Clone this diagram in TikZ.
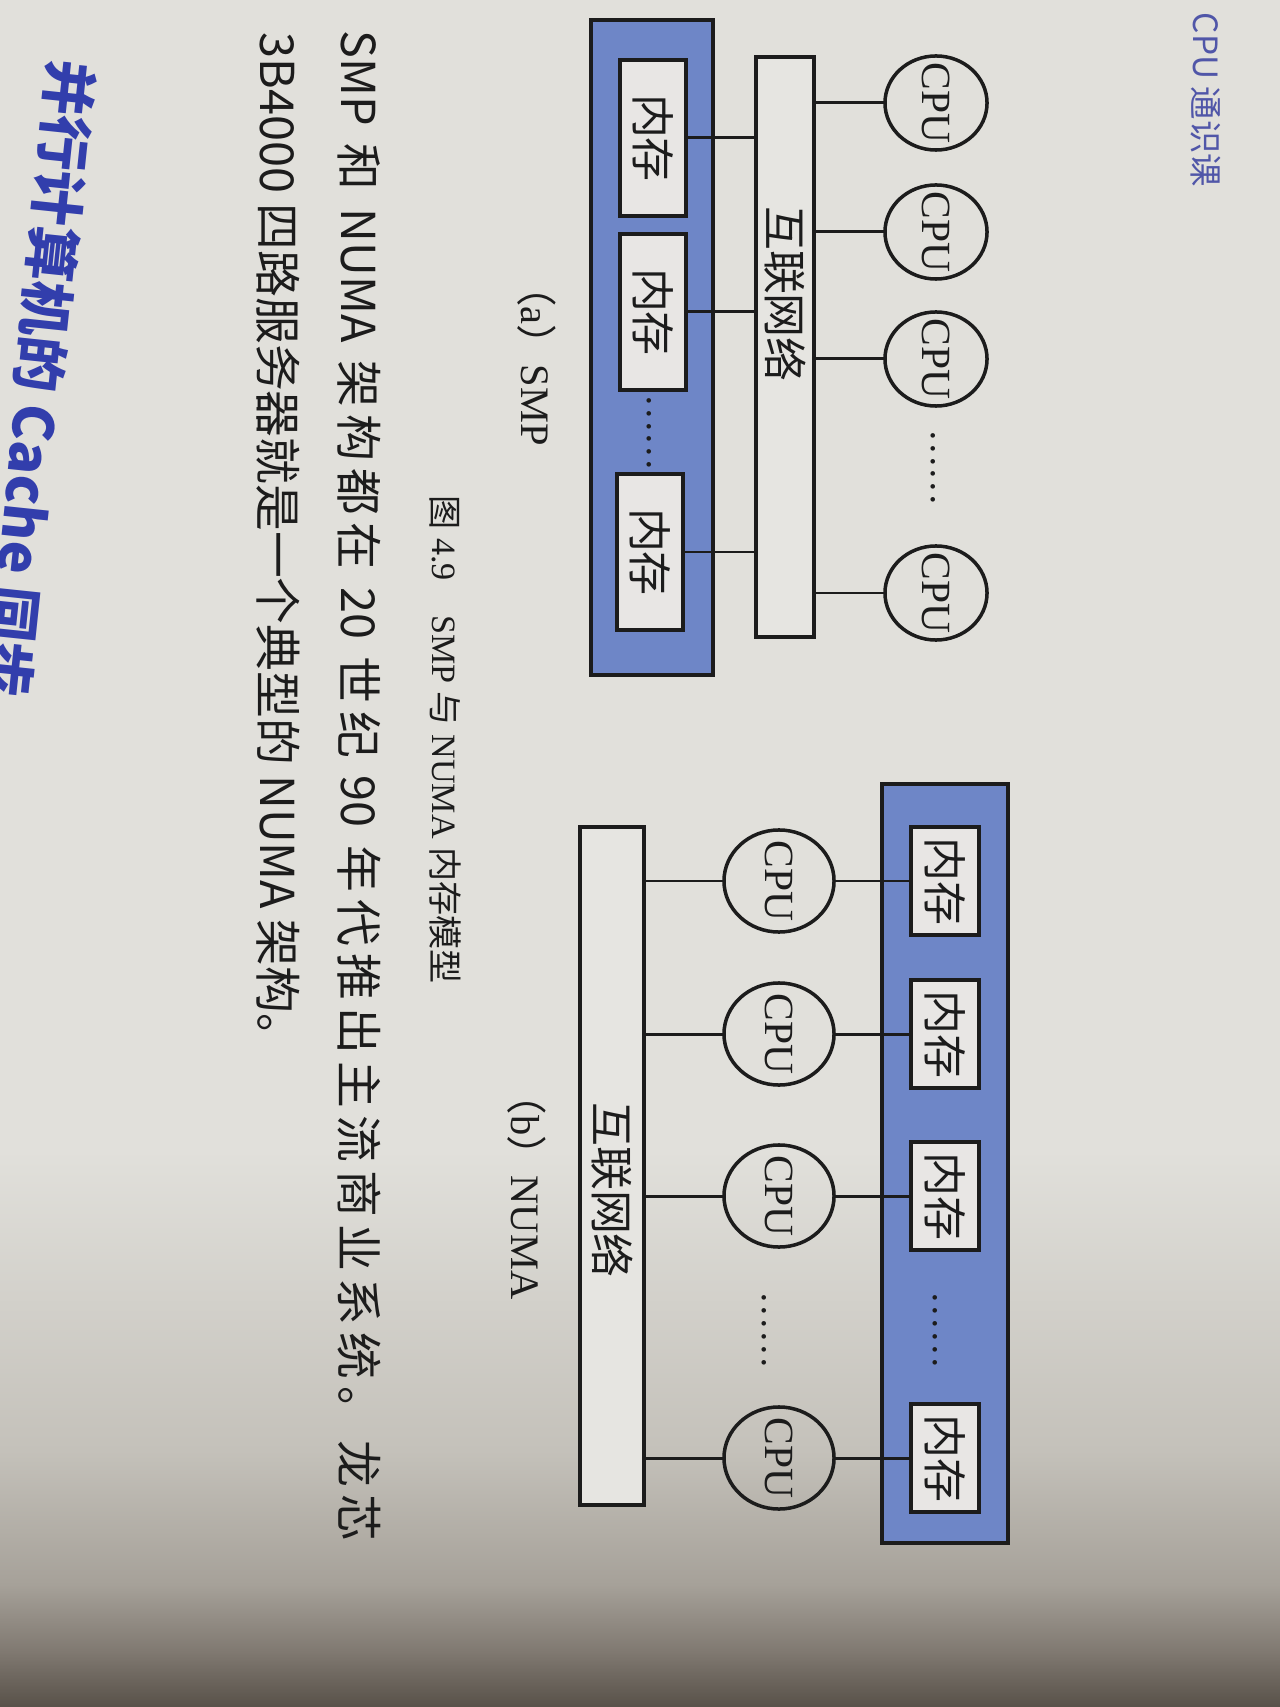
\documentclass[tikz,border=0pt]{standalone}
\usepackage{fontspec}
\setmainfont{Liberation Serif}
\newfontfamily\cjk{Noto Sans CJK SC}
\usetikzlibrary{shapes.geometric}
\definecolor{paper}{RGB}{225,224,219}
\definecolor{shadeB}{RGB}{196,193,186}
\definecolor{shadeC}{RGB}{166,161,153}
\definecolor{shadeD}{RGB}{128,121,113}
\definecolor{shadeE}{RGB}{88,81,73}
\definecolor{blueboxc}{RGB}{110,134,199}
\definecolor{memfill}{RGB}{232,230,228}
\definecolor{icfill}{RGB}{230,229,225}
\definecolor{headblue}{RGB}{50,62,172}
\definecolor{topblue}{RGB}{80,86,168}
\definecolor{ink}{RGB}{28,28,28}
\pgfdeclareverticalshading{pagecurl}{100bp}{color(0bp)=(shadeE); color(25bp)=(shadeE); color(30bp)=(shadeD); color(36bp)=(shadeC); color(48bp)=(shadeB); color(75bp)=(paper); color(100bp)=(paper)}
\begin{document}
\begin{tikzpicture}[x=0.01cm,y=-0.01cm,
  conn/.style={draw=ink,line width=0.85pt},
  bluebox/.style={draw=ink,fill=blueboxc,line width=1.4pt},
  membox/.style={draw=ink,fill=memfill,line width=1.15pt,rotate=-90,inner sep=0pt,
    font=\cjk\fontsize{12.5}{13}\selectfont,text=ink},
  icbox/.style={draw=ink,fill=icfill,line width=1pt,rotate=-90,inner sep=0pt},
  cpushape/.style={draw=ink,ellipse,line width=1pt,rotate=-90,inner sep=0pt,outer sep=0pt},
  smpcpu/.style={cpushape,minimum width=0.94cm,minimum height=1.02cm},
  numacpu/.style={cpushape,minimum width=1.02cm,minimum height=1.10cm},
  cputxt/.style={rotate=-90,inner sep=0pt,text=ink,font=\fontsize{11.8}{12}\selectfont},
  lbl/.style={rotate=-90,inner sep=0pt,text=ink},
  dotsl/.style={rotate=-90,inner sep=0pt,text=ink,font=\fontsize{11}{11}\selectfont}
]
\useasboundingbox (0,0) rectangle (1280,1707);
\clip (0,0) rectangle (1280,1707);
\fill[paper] (0,0) rectangle (1280,1707);
\shade[shading=pagecurl] (0,1150) rectangle (1280,1707);

% header
\node[lbl,anchor=west,text=topblue,font=\cjk\fontsize{9.5}{10}\selectfont] (hdr) at (1206,12) {CPU 通识课};

% ---------- (a) SMP ----------
\path[bluebox] (591,20) rectangle (713,675);
\node[icbox,minimum width=5.8cm,minimum height=0.58cm] (sic) at (785,347) {};
\node[lbl,font=\cjk\fontsize{12.5}{13}\selectfont] (sictxt) at (785,294) {互联网络};
\node[membox,minimum width=1.55cm,minimum height=0.66cm] (sm1) at (653,138) {内存};
\node[membox,minimum width=1.55cm,minimum height=0.66cm] (sm2) at (653,312) {内存};
\node[membox,minimum width=1.55cm,minimum height=0.66cm] (sm3) at (650,552) {内存};
\node[dotsl,anchor=base] (smd) at (647,433) {……};
\foreach \i/\yy in {1/103,2/232,3/359,4/593}{
  \node[smpcpu] (sc\i) at (936,\yy) {};
  \node[cputxt] (sc\i t) at (sc\i.center) {CPU};
}
\node[dotsl,anchor=base] (scd) at (931,468) {……};
\foreach \i in {1,2,3,4}{\draw[conn] (sc\i.south) -- (sc\i.south -| sic.north);}
\foreach \i in {1,2,3}{\draw[conn] (sm\i.north) -- (sm\i.north -| sic.south);}
\node[lbl,font=\fontsize{11.5}{12}\selectfont] (la) at (537,356) {{\cjk （}a{\cjk ）}SMP};

% ---------- (b) NUMA ----------
\path[bluebox] (882,784) rectangle (1008,1543);
\node[icbox,minimum width=6.78cm,minimum height=0.64cm] (nic) at (612,1166) {};
\node[lbl,font=\cjk\fontsize{12.5}{13}\selectfont] (nictxt) at (612,1190) {互联网络};
\foreach \i/\yy in {1/881,2/1034,3/1196,4/1458}{
  \node[membox,minimum width=1.08cm,minimum height=0.68cm] (nm\i) at (945,\yy) {内存};
  \node[numacpu] (nc\i) at (779,\yy) {};
  \node[cputxt] (nc\i t) at (nc\i.center) {CPU};
}
\node[dotsl,anchor=base] (nmd) at (933,1330) {……};
\node[dotsl,anchor=base] (ncd) at (762,1330) {……};
\foreach \i in {1,2,3,4}{
  \draw[conn] (nc\i.south) -- (nc\i.south -| nic.north);
  \draw[conn] (nc\i.north) -- (nc\i.north -| nm\i.south);
}
\node[lbl,font=\fontsize{11.5}{12}\selectfont] (lb) at (527,1187) {{\cjk （}b{\cjk ）}NUMA};

% caption
\node[lbl,anchor=west,font=\fontsize{9.7}{11}\selectfont] (cap) at (445,495)
  {{\cjk 图} 4.9\quad SMP {\cjk 与} NUMA {\cjk 内存模型}};

% body text
\node[lbl,anchor=west,font=\cjk\fontsize{13.3}{14}\selectfont] (body1) at (359,30)
  {\hbox to 15.1cm{SMP\hfil\ 和\hfil\ NUMA\hfil\ 架\hfil 构\hfil 都\hfil 在\hfil\ 20\hfil\ 世\hfil 纪\hfil\ 90\hfil\ 年\hfil 代\hfil 推\hfil 出\hfil 主\hfil 流\hfil 商\hfil 业\hfil 系\hfil 统\hfil 。\hfil 龙\hfil 芯}};
\node[lbl,anchor=west,font=\cjk\fontsize{13.3}{14}\selectfont] (body2) at (278,32)
  {3B4000 四路服务器就是一个典型的 NUMA 架构。};

% heading
\node[rotate=-96,inner sep=0pt,anchor=west,text=headblue,font=\cjk\bfseries\fontsize{15.8}{16}\selectfont] (head) at (73,60)
  {并行计算机的 Cache 同步};
\end{tikzpicture}
\end{document}
